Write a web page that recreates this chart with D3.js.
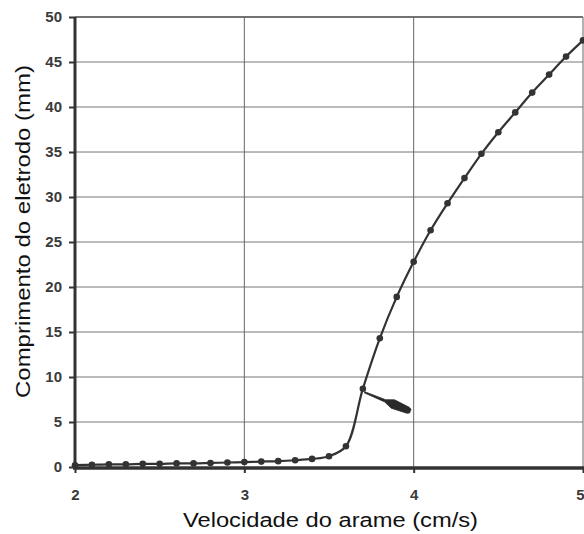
<!DOCTYPE html>
<html lang="pt">
<head>
    <meta charset="UTF-8">
    <title>eletrodo</title>
    <script src="https://d3js.org/d3.v7.min.js"></script>
    <style>
        body{
            margin: 0;
            background: #fff;
        }
        .tick text{
            font-family: "Liberation Sans", Arial, sans-serif;
            font-weight: bold;
            font-size: 15px;
            fill: #3a3a3a;
        }
        .label{
            font-family: "Liberation Sans", Arial, sans-serif;
            fill: #111;
            text-anchor: middle;
        }
    </style>
</head>
<body>
<svg id="chart" width="584" height="534"></svg>
<script>
    // velocidade do arame (cm/s)
    let velocidade = [2.0, 2.1, 2.2, 2.3, 2.4, 2.5, 2.6, 2.7, 2.8, 2.9,
        3.0, 3.1, 3.2, 3.3, 3.4, 3.5, 3.6, 3.7, 3.8, 3.9,
        4.0, 4.1, 4.2, 4.3, 4.4, 4.5, 4.6, 4.7, 4.8, 4.9, 5.0]
    // comprimento do eletrodo (mm)
    let comprimento = [0.2, 0.25, 0.3, 0.3, 0.35, 0.35, 0.4, 0.4, 0.45, 0.5,
        0.55, 0.6, 0.65, 0.75, 0.9, 1.2, 2.3, 8.7, 14.3, 18.9,
        22.8, 26.3, 29.3, 32.1, 34.8, 37.2, 39.4, 41.6, 43.6, 45.6, 47.4]
    let xTicks = [2, 3, 4, 5]
    let yTicks = [0, 5, 10, 15, 20, 25, 30, 35, 40, 45, 50]
    // seta: ponta e cauda (em unidades dos eixos)
    let setaPonta = [3.71, 8.3]
    let setaCauda = [3.98, 6.2]

    let svg = d3.select("#chart")
    let x = d3.scaleLinear().domain([2, 5]).range([75, 583])
    let y = d3.scaleLinear().domain([0, 50]).range([467, 17])

    // grid
    svg.append("g")
        .selectAll("line")
        .data(yTicks.filter(d => d > 0))
        .enter()
        .append("line")
        .attr("x1", x(2)).attr("x2", x(5))
        .attr("y1", d => y(d)).attr("y2", d => y(d))
        .attr("stroke", d => d === 50 ? "#444" : "#777")
        .attr("stroke-width", d => d === 50 ? 1.5 : 1)
    svg.append("g")
        .selectAll("line")
        .data(xTicks.filter(d => d > 2))
        .enter()
        .append("line")
        .attr("x1", d => x(d)).attr("x2", d => x(d))
        .attr("y1", y(50)).attr("y2", y(0))
        .attr("stroke", "#666")
        .attr("stroke-width", 1)

    // axes
    let yAxis = svg.append("g")
        .attr("transform", "translate(" + x(2) + ",0)")
        .call(d3.axisLeft(y).tickValues(yTicks).tickSize(6).tickPadding(7))
    let xAxis = svg.append("g")
        .attr("transform", "translate(0," + (y(0) + 1) + ")")
        .call(d3.axisBottom(x).tickValues(xTicks).tickFormat(d3.format("d")).tickSize(5).tickPadding(16))

    yAxis.select(".domain").remove()
    xAxis.select(".domain").remove()
    svg.selectAll(".tick line").attr("stroke", "#333").attr("stroke-width", 2)
    // the last label sits on the right edge
    xAxis.selectAll(".tick text")
        .filter(d => d === 5)
        .attr("text-anchor", "end")
        .attr("dx", 1)

    svg.append("line")
        .attr("x1", x(2)).attr("x2", x(2))
        .attr("y1", y(50)).attr("y2", y(0) + 2)
        .attr("stroke", "#333").attr("stroke-width", 3)
    svg.append("line")
        .attr("x1", x(2) - 2).attr("x2", 584)
        .attr("y1", y(0) + 1).attr("y2", y(0) + 1)
        .attr("stroke", "#333").attr("stroke-width", 3.5)

    // curve
    let pts = velocidade.map((v, i) => [v, comprimento[i]])
    let line = d3.line()
        .x(d => x(d[0]))
        .y(d => y(d[1]))
        .curve(d3.curveCatmullRom.alpha(0.5))
    svg.append("path")
        .datum(pts)
        .attr("d", line)
        .attr("fill", "none")
        .attr("stroke", "#333")
        .attr("stroke-width", 2.2)
    svg.append("g")
        .selectAll("circle")
        .data(pts)
        .enter()
        .append("circle")
        .attr("cx", d => x(d[0]))
        .attr("cy", d => y(d[1]))
        .attr("r", 3.3)
        .attr("fill", "#333")

    // arrow
    let p0 = [x(setaPonta[0]), y(setaPonta[1])]
    let p1 = [x(setaCauda[0]), y(setaCauda[1])]
    let dx = p1[0] - p0[0], dy = p1[1] - p0[1]
    let len = Math.hypot(dx, dy)
    let ux = dx / len, uy = dy / len, nx = -uy, ny = ux
    function at(t, w) {
        return [p0[0] + ux * len * t + nx * w, p0[1] + uy * len * t + ny * w]
    }
    let seta = [at(0, 0.6), at(0.45, 1.2), at(0.62, 4.5), at(0.95, 3.2), at(1, 2),
        at(1, -2), at(0.95, -3.2), at(0.62, -4.5), at(0.45, -1.2), at(0, -0.6)]
    svg.append("path")
        .attr("d", "M" + seta.map(p => p.join(",")).join("L") + "Z")
        .attr("fill", "#2a2a2a")
        .attr("stroke", "#2a2a2a")
        .attr("stroke-width", 0.8)
        .attr("stroke-linejoin", "round")

    // labels
    svg.append("text")
        .attr("class", "label")
        .attr("x", 330.5)
        .attr("y", 527)
        .attr("font-size", 20)
        .attr("textLength", 295)
        .attr("lengthAdjust", "spacingAndGlyphs")
        .text("Velocidade do arame (cm/s)")
    svg.append("text")
        .attr("class", "label")
        .attr("transform", "translate(30,231.5) rotate(-90)")
        .attr("font-size", 20)
        .attr("textLength", 333)
        .attr("lengthAdjust", "spacingAndGlyphs")
        .text("Comprimento do eletrodo (mm)")
</script>
</body>
</html>
